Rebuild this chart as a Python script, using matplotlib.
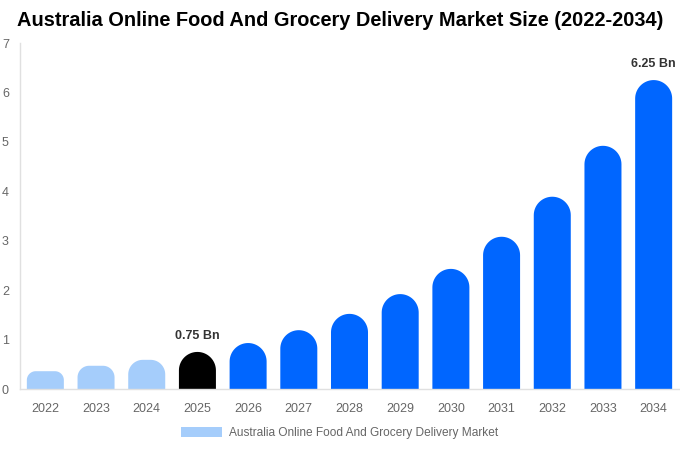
import numpy as np
import matplotlib
matplotlib.use("Agg")
import matplotlib.pyplot as plt
from matplotlib.patches import Polygon, Patch

plt.rcParams['font.family'] = ['Liberation Sans', 'DejaVu Sans']

# ---------- DATA ----------
years = ['2022', '2023', '2024', '2025', '2026', '2027', '2028',
         '2029', '2030', '2031', '2032', '2033', '2034']
values = [0.36, 0.47, 0.59, 0.75, 0.93, 1.19, 1.52, 1.92, 2.43, 3.08, 3.89, 4.92, 6.25]
colors = ['#a5cdfb'] * 3 + ['#000000'] + ['#0066ff'] * 9
labels = {3: '0.75 Bn', 12: '6.25 Bn'}
legend_label = 'Australia Online Food And Grocery Delivery Market'

# ---------- FIGURE ----------
W, H = 680, 450
fig = plt.figure(figsize=(W / 100, H / 100), dpi=100)
ax_l, ax_r, ax_t, ax_b = 20, 679, 43, 389
ax = fig.add_axes([ax_l / W, 1 - ax_b / H, (ax_r - ax_l) / W, (ax_b - ax_t) / H])
ax.set_xlim(-0.5, len(years) - 0.5)
ax.set_ylim(0, 7)

px_x = (ax_r - ax_l) / len(years)   # pixels per x unit
px_y = (ax_b - ax_t) / 7.0          # pixels per y unit
bw = 0.73

# ---------- BARS (rounded tops) ----------
for i, (v, c) in enumerate(zip(values, colors)):
    r_px = min(bw * px_x / 2, v * px_y / 2)
    rx, ry = r_px / px_x, r_px / px_y
    x0, x1 = i - bw / 2, i + bw / 2
    pts = [(x0, 0)]
    t = np.linspace(np.pi, np.pi / 2, 20)
    pts += list(zip(x0 + rx + rx * np.cos(t), v - ry + ry * np.sin(t)))
    t = np.linspace(np.pi / 2, 0, 20)
    pts += list(zip(x1 - rx + rx * np.cos(t), v - ry + ry * np.sin(t)))
    pts.append((x1, 0))
    ax.add_patch(Polygon(pts, closed=True, facecolor=c, edgecolor='none', zorder=2))

for i, txt in labels.items():
    ax.annotate(txt, (i, values[i]), xytext=(0, 7), textcoords='offset points',
                ha='center', va='bottom', fontsize=9, fontweight='bold', color='#333333')

# ---------- AXES ----------
ax.set_xticks(range(len(years)))
ax.set_xticklabels(years)
ax.set_yticks(range(0, 8))
ax.tick_params(axis='both', length=0, labelsize=9, colors='#666666')
ax.tick_params(axis='x', pad=10)
ax.tick_params(axis='y', pad=8)
for s in ['top', 'right']:
    ax.spines[s].set_visible(False)
for s in ['left', 'bottom']:
    ax.spines[s].set_color('#e0e0e0')
    ax.spines[s].set_linewidth(1)

fig.text(340 / W, 1 - 21 / H, 'Australia Online Food And Grocery Delivery Market Size (2022-2034)',
         ha='center', va='center', fontsize=14.4, fontweight='bold', color='#000000')

fig.legend(handles=[Patch(facecolor=colors[0], label=legend_label)],
           loc='center', bbox_to_anchor=(340 / W, 1 - 433 / H), frameon=False,
           fontsize=8.6, labelcolor='#666666', handlelength=3.4, handleheight=1.0,
           handletextpad=0.6)

fig.savefig('out.png', dpi=100)
